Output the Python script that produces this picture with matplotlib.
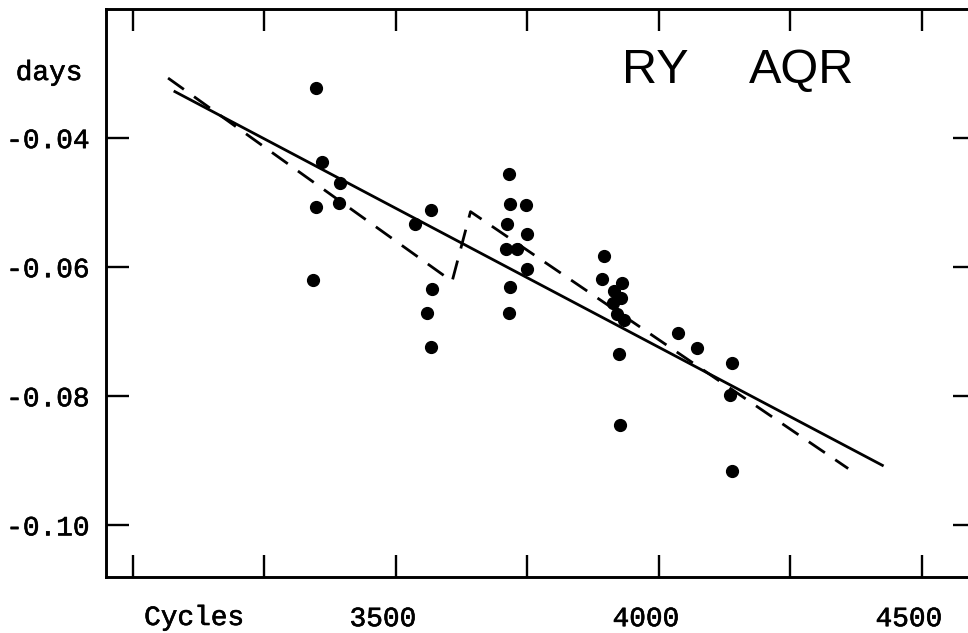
import matplotlib
matplotlib.use("Agg")
import matplotlib.pyplot as plt
import matplotlib.transforms as mtransforms
import matplotlib.patheffects as pe

# O-C residuals of RY Aqr (days) against cycle number
cycles = [3348, 3360, 3394, 3348, 3392, 3342,
          3536, 3567, 3569, 3560, 3567,
          3715, 3717, 3748, 3712, 3750, 3710, 3731, 3750, 3717, 3715,
          3895, 3892, 3930, 3915, 3928, 3912, 3920, 3933, 3924, 3926,
          4036, 4072, 4140, 4136, 4139]
residuals = [-0.0322, -0.0437, -0.0470, -0.0507, -0.0500, -0.0620,
             -0.0533, -0.0511, -0.0634, -0.0671, -0.0723,
             -0.0456, -0.0502, -0.0504, -0.0533, -0.0549, -0.0572, -0.0572,
             -0.0603, -0.0631, -0.0671,
             -0.0583, -0.0619, -0.0625, -0.0637, -0.0647, -0.0655, -0.0673,
             -0.0682, -0.0735, -0.0844,
             -0.0702, -0.0725, -0.0748, -0.0798, -0.0916]

# single linear ephemeris fit
linear_x = [3080, 4425]
linear_y = [-0.0328, -0.0907]

# broken fit with a jump in period
broken_x = [3067, 3607, 3642, 4360]
broken_y = [-0.0307, -0.0622, -0.0514, -0.0912]

x_ticks = [3000, 3250, 3500, 3750, 4000, 4250, 4500]
x_tick_labels = ["", "", "3500", "", "4000", "", "4500"]
y_ticks = [-0.10, -0.08, -0.06, -0.04]
y_tick_labels = ["-0.10", "-0.08", "-0.06", "-0.04"]

mono = "Liberation Mono"
heavy = [pe.withStroke(linewidth=0.45, foreground="black")]

fig = plt.figure(figsize=(9.68, 6.33), dpi=100)
ax = fig.add_axes([106 / 968, 56 / 633, 870 / 968, 568 / 633])

ax.plot(broken_x, broken_y, color="black", lw=2.0, linestyle=(0, (7, 4.5)),
        solid_capstyle="butt")
ax.plot(linear_x, linear_y, color="black", lw=2.0)
ax.plot(cycles, residuals, "o", color="black", ms=8.5, mec="black")

ax.set_xlim(2949, 4603)
ax.set_ylim(-0.108, -0.020)

ax.set_xticks(x_ticks)
ax.set_xticklabels(x_tick_labels, fontfamily=mono, fontsize=20)
ax.set_yticks(y_ticks)
ax.set_yticklabels(y_tick_labels, fontfamily=mono, fontsize=20)

ax.tick_params(axis="x", direction="in", length=15.5, width=1.7,
               top=True, bottom=True, pad=21)
ax.tick_params(axis="y", direction="in", length=16.5, width=1.7,
               left=True, right=True, pad=12)

shift = mtransforms.ScaledTranslation(-13 / 100, 0, fig.dpi_scale_trans)
for lab in ax.get_xticklabels():
    lab.set_transform(lab.get_transform() + shift)
for lab in ax.get_xticklabels() + ax.get_yticklabels():
    lab.set_path_effects(heavy)

for sp in ax.spines.values():
    sp.set_linewidth(2.1)

fig.text(49 / 968, 1 - 80 / 633, "days", fontfamily=mono, fontsize=20,
         ha="center", va="baseline", path_effects=heavy)
fig.text(194 / 968, 1 - 625 / 633, "Cycles", fontfamily=mono, fontsize=20,
         ha="center", va="baseline", path_effects=heavy)

title_tf = mtransforms.blended_transform_factory(
    mtransforms.IdentityTransform(), fig.transFigure)
ax.text(655, 1 - 83 / 633, "RY", transform=title_tf,
        fontfamily="Liberation Sans", fontsize=35, ha="center", va="baseline")
ax.text(802, 1 - 83 / 633, "AQR", transform=title_tf,
        fontfamily="Liberation Sans", fontsize=35, ha="center", va="baseline")

fig.savefig("out.png", dpi=100)
